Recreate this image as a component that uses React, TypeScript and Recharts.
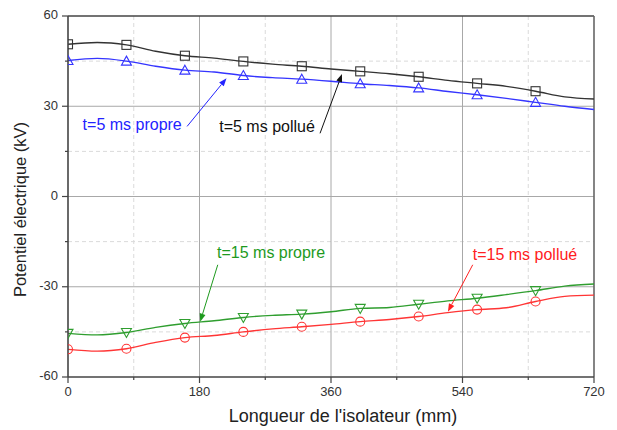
import React from 'react'
import { ComposedChart, Line, Scatter, XAxis, YAxis, ReferenceLine, ReferenceDot, Label } from 'recharts'

// longueur le long de l'isolateur (mm)
const lengths = [0, 40, 80, 120, 160, 200, 240, 280, 320, 360, 400, 440, 480, 520, 560, 600, 640, 680, 720]

// potentiel (kV)
const pollue5 = [50.6, 51.2, 50.4, 48.3, 46.8, 46.0, 44.9, 44.0, 43.3, 42.4, 41.6, 40.8, 39.8, 38.6, 37.6, 36.6, 35.0, 33.1, 32.4]
const propre5 = [45.2, 45.9, 45.0, 43.3, 42.0, 41.4, 40.2, 39.5, 39.0, 38.3, 37.5, 36.9, 36.1, 34.9, 33.8, 32.6, 31.3, 30.0, 28.9]
const propre15 = [-45.5, -46.0, -45.2, -43.5, -42.2, -41.3, -40.2, -39.5, -39.1, -38.3, -37.2, -36.9, -35.8, -34.7, -33.8, -32.6, -31.3, -29.8, -29.1]
const pollue15 = [-50.8, -51.4, -50.6, -48.5, -46.9, -46.2, -45.0, -44.0, -43.3, -42.5, -41.6, -40.9, -39.9, -38.6, -37.6, -37.0, -34.9, -33.2, -32.8]

// symboles tous les 80 mm
const markerLengths = [0, 80, 160, 240, 320, 400, 480, 560, 640]

const xTicks = [0, 90, 180, 270, 360, 450, 540, 630, 720]
const yTicks = [-60, -45, -30, -15, 0, 15, 30, 45, 60]
const xMajor = [180, 360, 540]
const xMinor = [90, 270, 450, 630]
const yMajor = [-30, 0, 30]
const yMinor = [-45, -15, 15, 45]

const FONT = '"Liberation Sans", Arial, sans-serif'

const toPoints = (vals: number[]) => lengths.map((x, i) => ({ x, y: vals[i] }))
const toMarkers = (vals: number[]) => markerLengths.map((x) => ({ x, y: vals[lengths.indexOf(x)] }))

const series = [
  { name: 't=5 ms pollué', vals: pollue5, color: '#333333', marker: 'square' },
  { name: 't=5 ms propre', vals: propre5, color: '#3535ff', marker: 'up' },
  { name: 't=15 ms propre', vals: propre15, color: '#2f9e2f', marker: 'down' },
  { name: 't=15 ms pollué', vals: pollue15, color: '#ff3535', marker: 'circle' },
]

const notes = [
  { text: 't=5 ms propre', color: '#2323ff', at: [20, 23.5], from: [163, 23.3], to: [217, 39.3] },
  { text: 't=5 ms pollué', color: '#111111', at: [207, 22.7], from: [345, 21], to: [375, 40.7] },
  { text: 't=15 ms propre', color: '#1e9a1e', at: [204, -19], from: [205, -22.7], to: [181, -41.6] },
  { text: 't=15 ms pollué', color: '#ff2020', at: [554, -19.7], from: [554, -22.7], to: [520, -38.3] },
]

const markerShape = (kind: string, color: string) => (props: any) => {
  const { cx, cy } = props
  const s = 4.5
  if (kind === 'square') return <rect x={cx - s} y={cy - s} width={2 * s} height={2 * s} fill="none" stroke={color} strokeWidth={1.1} />
  if (kind === 'circle') return <circle cx={cx} cy={cy} r={s} fill="none" stroke={color} strokeWidth={1.1} />
  if (kind === 'up') return <path d={`M${cx},${cy - 5} L${cx + 5},${cy + 4} L${cx - 5},${cy + 4} Z`} fill="none" stroke={color} strokeWidth={1.1} />
  return <path d={`M${cx},${cy + 5} L${cx + 5},${cy - 4} L${cx - 5},${cy - 4} Z`} fill="none" stroke={color} strokeWidth={1.1} />
}

const arrowShape = (color: string) => (props: any) => {
  const { x1, y1, x2, y2 } = props
  // x1,y1 = queue, x2,y2 = pointe
  const ang = Math.atan2(y2 - y1, x2 - x1)
  const len = 8
  const w = 3
  const bx = x2 - len * Math.cos(ang)
  const by = y2 - len * Math.sin(ang)
  const px = -Math.sin(ang) * w
  const py = Math.cos(ang) * w
  return (
    <g>
      <line x1={x1} y1={y1} x2={bx} y2={by} stroke={color} strokeWidth={1} />
      <path d={`M${x2},${y2} L${bx + px},${by + py} L${bx - px},${by - py} Z`} fill={color} />
    </g>
  )
}

const noteText = (text: string, color: string) => (props: any) => (
  <text x={props.cx} y={props.cy} fill={color} fontSize={16} fontFamily={FONT} dominantBaseline="middle">
    {text}
  </text>
)

const XTick = (props: any) => {
  const { x, y, payload } = props
  const major = payload.value % 180 === 0
  return (
    <g>
      <line x1={x} y1={y} x2={x} y2={y + (major ? 6 : 3)} stroke="#444" strokeWidth={1.2} />
      {major && (
        <text x={x} y={y + 16} textAnchor="middle" dominantBaseline="middle" fontSize={13} fill="#333" fontFamily={FONT}>
          {payload.value}
        </text>
      )}
    </g>
  )
}

const YTick = (props: any) => {
  const { x, y, payload } = props
  const major = payload.value % 30 === 0
  return (
    <g>
      <line x1={x} y1={y} x2={x - (major ? 6 : 3)} y2={y} stroke="#444" strokeWidth={1.2} />
      {major && (
        <text x={x - 10} y={y} textAnchor="end" dominantBaseline="middle" fontSize={13} fill="#333" fontFamily={FONT}>
          {payload.value}
        </text>
      )}
    </g>
  )
}

const XTitle = (props: any) => {
  const { viewBox } = props
  return (
    <text x={viewBox.x + viewBox.width / 2 + 12} y={viewBox.y + 40} textAnchor="middle" dominantBaseline="middle" fontSize={18} fill="#222" fontFamily={FONT}>
      Longueur de l'isolateur (mm)
    </text>
  )
}

const YTitle = (props: any) => {
  const { viewBox } = props
  const cx = 22
  const cy = viewBox.y + viewBox.height / 2 + 13
  return (
    <text x={cx} y={cy} transform={`rotate(-90, ${cx}, ${cy})`} textAnchor="middle" dominantBaseline="middle" fontSize={16.5} fill="#222" fontFamily={FONT}>
      Potentiel électrique (kV)
    </text>
  )
}

export default function App() {
  return (
    <div style={{ position: 'absolute', left: 0, top: 0, width: 617, height: 430, background: '#fff', fontFamily: FONT }}>
      <ComposedChart width={617} height={430} margin={{ top: 16, right: 23, left: 0, bottom: 0 }}>
        <XAxis
          type="number"
          dataKey="x"
          domain={[0, 720]}
          ticks={xTicks}
          interval={0}
          height={53}
          tickSize={0}
          tickMargin={0}
          tickLine={false}
          tick={<XTick />}
          axisLine={{ stroke: '#444', strokeWidth: 1.6 }}
          allowDataOverflow
        >
          <Label content={<XTitle />} />
        </XAxis>
        <YAxis
          type="number"
          dataKey="y"
          domain={[-60, 60]}
          ticks={yTicks}
          interval={0}
          width={68}
          tickSize={0}
          tickMargin={0}
          tickLine={false}
          tick={<YTick />}
          axisLine={{ stroke: '#444', strokeWidth: 1.6 }}
          allowDataOverflow
        >
          <Label content={<YTitle />} />
        </YAxis>

        {xMinor.map((v) => (
          <ReferenceLine key={`xm${v}`} x={v} stroke="#dadada" strokeDasharray="4 3" />
        ))}
        {yMinor.map((v) => (
          <ReferenceLine key={`ym${v}`} y={v} stroke="#dadada" strokeDasharray="4 3" />
        ))}
        {xMajor.map((v) => (
          <ReferenceLine key={`xM${v}`} x={v} stroke="#a8a8a8" />
        ))}
        {yMajor.map((v) => (
          <ReferenceLine key={`yM${v}`} y={v} stroke="#a8a8a8" />
        ))}
        <ReferenceLine y={60} stroke="#444" strokeWidth={1.6} />
        <ReferenceLine x={720} stroke="#666" strokeWidth={1.6} />

        {series.map((s) => (
          <Line
            key={`l-${s.name}`}
            data={toPoints(s.vals)}
            dataKey="y"
            type="monotone"
            stroke={s.color}
            strokeWidth={1.4}
            dot={false}
            activeDot={false}
            isAnimationActive={false}
          />
        ))}
        {series.map((s) => (
          <Scatter
            key={`m-${s.name}`}
            data={toMarkers(s.vals)}
            dataKey="y"
            shape={markerShape(s.marker, s.color)}
            isAnimationActive={false}
          />
        ))}

        {notes.map((n) => (
          <ReferenceLine
            key={`a-${n.text}`}
            segment={[{ x: n.from[0], y: n.from[1] }, { x: n.to[0], y: n.to[1] }]}
            shape={arrowShape(n.color)}
            ifOverflow="visible"
          />
        ))}
        {notes.map((n) => (
          <ReferenceDot key={`t-${n.text}`} x={n.at[0]} y={n.at[1]} r={0} shape={noteText(n.text, n.color)} ifOverflow="visible" />
        ))}
      </ComposedChart>
    </div>
  )
}
